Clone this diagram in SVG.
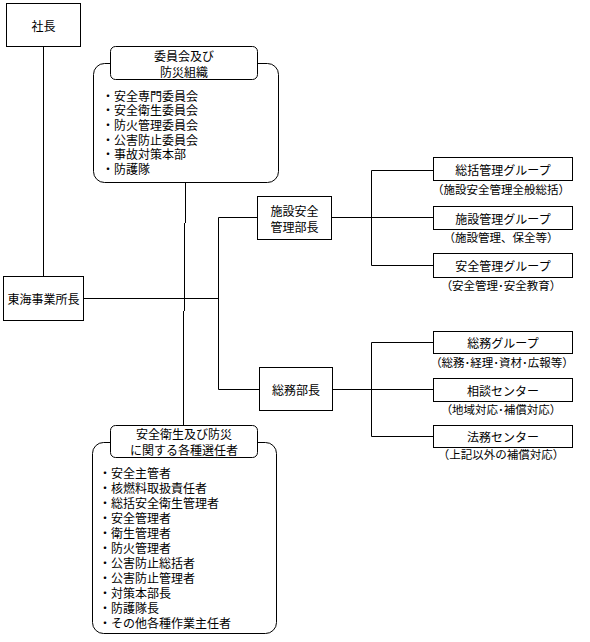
<svg xmlns="http://www.w3.org/2000/svg" width="590" height="642" viewBox="0 0 590 642">
<style>
text{font-family:"Noto Sans CJK JP","Noto Sans CJK SC",sans-serif;font-size:12px;fill:#000;dominant-baseline:central}
.c{text-anchor:middle}
.lbl{font-size:11.5px}
.box{fill:#fff;stroke:#000;stroke-width:1}
.ln{fill:none;stroke:#000;stroke-width:1}
</style>
<rect width="590" height="642" fill="#fff"/>
<g id="connectors">
<path class="ln" d="M43.5 46V276"/>
<path class="ln" d="M83 298.5H218.5M218.5 217.5V389.5M218.5 217.5H257M218.5 389.5H259"/>
<path class="ln" d="M185.5 182V223M184.5 223V311M183.5 311V425"/>
<path class="ln" d="M331 217.5H433M371.5 170.5V265.5M371.5 170.5H433M371.5 265.5H433"/>
<path class="ln" d="M332 389.5H433M371.5 342.5V436.5M371.5 342.5H433M371.5 436.5H433"/>
</g>
<g id="shacho">
<rect class="box" x="6.5" y="3.5" width="74" height="43"/>
<text class="c" x="43.5" y="25">社長</text>
</g>
<g id="tokai">
<rect class="box" x="3.5" y="276.5" width="80" height="44"/>
<text class="c" x="43.5" y="298.5">東海事業所長</text>
</g>
<g id="committee">
<rect class="box" x="93.5" y="63.5" width="185" height="119" rx="11"/>
<rect class="box" x="110.5" y="46.5" width="147" height="33" rx="5"/>
<text class="c" x="184" y="55">委員会及び</text>
<text class="c" x="184" y="71">防災組織</text>
<text x="102" y="95">・安全専門委員会</text>
<text x="102" y="109.7">・安全衛生委員会</text>
<text x="102" y="124.4">・防火管理委員会</text>
<text x="102" y="139.1">・公害防止委員会</text>
<text x="102" y="153.8">・事故対策本部</text>
<text x="102" y="168.5">・防護隊</text>
</g>
<g id="appointees">
<rect class="box" x="92.5" y="442.5" width="184" height="191" rx="11"/>
<rect class="box" x="110.5" y="425.5" width="147" height="32" rx="5"/>
<text class="c" x="184" y="433.5">安全衛生及び防災</text>
<text class="c" x="184" y="449">に関する各種選任者</text>
<text x="99" y="472">・安全主管者</text>
<text x="99" y="487">・核燃料取扱責任者</text>
<text x="99" y="502">・総括安全衛生管理者</text>
<text x="99" y="517">・安全管理者</text>
<text x="99" y="532">・衛生管理者</text>
<text x="99" y="547">・防火管理者</text>
<text x="99" y="562">・公害防止総括者</text>
<text x="99" y="577">・公害防止管理者</text>
<text x="99" y="592">・対策本部長</text>
<text x="99" y="607">・防護隊長</text>
<text x="99" y="622">・その他各種作業主任者</text>
</g>
<g id="shisetsu">
<rect class="box" x="257.5" y="196.5" width="74" height="43"/>
<text class="c" x="294.5" y="210.5">施設安全</text>
<text class="c" x="294.5" y="226">管理部長</text>
</g>
<g id="somu">
<rect class="box" x="259.5" y="367.5" width="73" height="43"/>
<text class="c" x="296" y="389.5">総務部長</text>
</g>
<g id="g1">
<rect class="box" x="433.5" y="157.5" width="139" height="23"/>
<text class="c" x="503" y="169">総括管理グループ</text>
<text class="c lbl" x="501" y="189">（施設安全管理全般総括）</text>
</g>
<g id="g2">
<rect class="box" x="433.5" y="206.5" width="139" height="23"/>
<text class="c" x="503" y="218">施設管理グループ</text>
<text class="c lbl" x="501" y="237">（施設管理、保全等）</text>
</g>
<g id="g3">
<rect class="box" x="433.5" y="253.5" width="139" height="24"/>
<text class="c" x="503" y="265.5">安全管理グループ</text>
<text class="c lbl" x="501" y="285">（安全管理･安全教育）</text>
</g>
<g id="g4">
<rect class="box" x="433.5" y="331.5" width="139" height="22"/>
<text class="c" x="503" y="342.5">総務グループ</text>
<text class="c lbl" x="502" y="362">（総務･経理･資材･広報等）</text>
</g>
<g id="g5">
<rect class="box" x="433.5" y="378.5" width="139" height="23"/>
<text class="c" x="503" y="390">相談センター</text>
<text class="c lbl" x="501" y="408.5">（地域対応･補償対応）</text>
</g>
<g id="g6">
<rect class="box" x="433.5" y="425.5" width="139" height="22"/>
<text class="c" x="503" y="436.5">法務センター</text>
<text class="c lbl" x="501" y="454">（上記以外の補償対応）</text>
</g>
</svg>
